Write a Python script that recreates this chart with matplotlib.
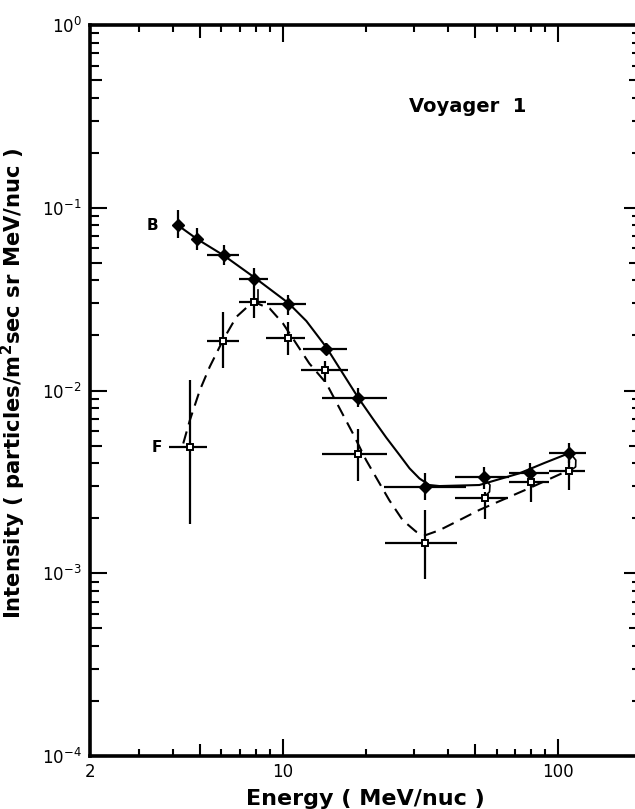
import math
import matplotlib
matplotlib.use("Agg")
import matplotlib.pyplot as plt
from matplotlib.ticker import FixedLocator, NullFormatter

# B spectrum (filled diamonds)
b_energy = [4.17, 4.88, 6.12, 7.86, 10.5, 14.4, 18.8, 33.0, 54.0, 79.2, 109.7]
b_intensity = [0.0804, 0.0674, 0.0551, 0.0407, 0.0297, 0.0168, 0.00912,
               0.00297, 0.00337, 0.00352, 0.00453]
b_energy_lo = [4.17, 4.88, 5.31, 6.94, 8.77, 11.9, 13.9, 23.4, 42.4, 66.5, 92.7]
b_energy_hi = [4.17, 4.88, 6.94, 8.86, 12.2, 17.1, 23.9, 46.4, 66.5, 92.7, 126.0]
b_int_lo = [0.0683, 0.0587, 0.0487, 0.0354, 0.0258, 0.0156, 0.0081,
            0.00251, 0.0029, 0.00305, 0.0040]
b_int_hi = [0.0971, 0.0774, 0.0625, 0.0469, 0.0333, 0.0182, 0.0103,
            0.00353, 0.00382, 0.0040, 0.00514]

# F spectrum (open squares)
f_energy = [4.61, 6.08, 7.86, 10.5, 14.3, 18.8, 33.0, 54.1, 79.7, 109.7]
f_intensity = [0.00488, 0.0187, 0.0306, 0.0193, 0.0130, 0.00447, 0.00146,
               0.00259, 0.00314, 0.00364]
f_energy_lo = [3.88, 5.30, 6.94, 8.73, 11.7, 13.9, 23.6, 42.4, 66.5, 92.7]
f_energy_hi = [5.32, 6.94, 8.73, 12.1, 17.3, 23.9, 42.9, 65.8, 92.7, 125.0]
f_int_lo = [0.00187, 0.0132, 0.0249, 0.0156, 0.0111, 0.00318, 0.00093,
            0.00198, 0.00245, 0.00286]
f_int_hi = [0.0114, 0.0270, 0.0354, 0.0238, 0.0145, 0.00616, 0.00221,
            0.00278, 0.00366, 0.00437]

# hand drawn curves
solid_energy = [4.16, 4.88, 6.12, 7.86, 10.5, 12.2, 14.4, 18.8, 21.3, 23.8,
                26.6, 28.9, 31.4, 34.1, 37.1, 51.8, 72.3, 89.1, 109.7]
solid_intensity = [0.0804, 0.0676, 0.0548, 0.0418, 0.0301, 0.0240, 0.01728,
                   0.00915, 0.00698, 0.00552, 0.00443, 0.00375, 0.00330,
                   0.00304, 0.00300, 0.00304, 0.00352, 0.00401, 0.00454]
dash_energy = [4.36, 4.61, 5.01, 5.44, 6.08, 6.80, 7.81, 8.98, 10.03, 11.2,
               12.5, 14.4, 18.0, 20.1, 22.5, 24.4, 27.3, 30.5, 33.2, 37.1,
               42.6, 51.8, 78.6, 109.7]
dash_intensity = [0.00513, 0.00689, 0.01005, 0.01348, 0.01888, 0.0253, 0.0306,
                  0.0281, 0.0233, 0.0181, 0.01407, 0.01098, 0.00582, 0.00416,
                  0.00310, 0.00251, 0.00195, 0.00169, 0.00162, 0.00172,
                  0.00191, 0.00222, 0.00292, 0.00367]

# little connector strokes between curves
link_energy = [[8.14, 8.14], [54.7, 56.6, 56.4, 54.3], [112.2, 116.0, 115.8, 111.5]]
link_intensity = [[0.0354, 0.0306], [0.00323, 0.00304, 0.00279, 0.00264],
                  [0.00443, 0.00416, 0.00382, 0.00367]]

x_ticks = [2, 10, 100]
x_ticklabels = ["2", "10", "100"]
x_minor = [3, 4, 5, 6, 7, 8, 9, 20, 30, 40, 50, 60, 70, 80, 90]
y_ticks = [1e-4, 1e-3, 1e-2, 1e-1, 1]

plt.rcParams['font.family'] = ['DejaVu Sans']
plt.rcParams['mathtext.default'] = 'regular'

fig = plt.figure(figsize=(6.35, 8.09), dpi=100)
ax = fig.add_axes([90 / 635, 53 / 809, 551 / 635, 731 / 809])
ax.set_xscale('log')
ax.set_yscale('log')
ax.set_xlim(2, 200)
ax.set_ylim(1e-4, 1)

ax.plot(solid_energy, solid_intensity, color='black', lw=1.5, zorder=2)
ax.plot(dash_energy, dash_intensity, color='black', lw=1.5,
        dashes=(6, 3.5), zorder=2)
for xs, ys in zip(link_energy, link_intensity):
    ax.plot(xs, ys, color='black', lw=1.2, zorder=2)

b_xerr = [[e - lo for e, lo in zip(b_energy, b_energy_lo)],
          [hi - e for e, hi in zip(b_energy, b_energy_hi)]]
b_yerr = [[v - lo for v, lo in zip(b_intensity, b_int_lo)],
          [hi - v for v, hi in zip(b_intensity, b_int_hi)]]
f_xerr = [[e - lo for e, lo in zip(f_energy, f_energy_lo)],
          [hi - e for e, hi in zip(f_energy, f_energy_hi)]]
f_yerr = [[v - lo for v, lo in zip(f_intensity, f_int_lo)],
          [hi - v for v, hi in zip(f_intensity, f_int_hi)]]

ax.errorbar(b_energy, b_intensity, xerr=b_xerr, yerr=b_yerr, fmt='D',
            color='black', ms=6, elinewidth=1.6, capsize=0, zorder=3)
ax.errorbar(f_energy, f_intensity, xerr=f_xerr, yerr=f_yerr, fmt='s',
            color='black', mfc='white', mec='black', mew=1.4, ms=5,
            elinewidth=1.6, capsize=0, zorder=4)

ax.text(4.17 / 1.18, 0.0804, "B", fontsize=11, fontweight='bold',
        ha='right', va='center')
ax.text(4.61 / 1.26, 0.00488, "F", fontsize=11, fontweight='bold',
        ha='right', va='center')
ax.text(0.685, 0.888, "Voyager  1", transform=ax.transAxes, fontsize=14,
        fontweight='bold', ha='center', va='center')

# ticks (lengths in points)
ax.xaxis.set_major_locator(FixedLocator(x_ticks))
ax.set_xticklabels(x_ticklabels)
ax.xaxis.set_minor_locator(FixedLocator(x_minor))
ax.xaxis.set_minor_formatter(NullFormatter())
ax.set_yticks(y_ticks)
ax.yaxis.set_minor_formatter(NullFormatter())
ax.tick_params(axis='both', which='both', direction='in', top=True, right=True,
               width=1.5, labelsize=12, color='black')
ax.tick_params(axis='x', which='major', length=12.5, pad=5)
ax.tick_params(axis='x', which='minor', length=5)
ax.tick_params(axis='y', which='major', length=12, pad=6)
ax.tick_params(axis='y', which='minor', length=6.5)

# the "5" minor ticks are drawn a bit longer
for t, v in zip(ax.xaxis.get_minor_ticks(), x_minor):
    if v in (5, 50):
        t.tick1line.set_markersize(9)
        t.tick2line.set_markersize(9)
y_minor = ax.yaxis.get_minorticklocs()
for t, v in zip(ax.yaxis.get_minor_ticks(len(y_minor)), y_minor):
    mant = v / 10 ** math.floor(math.log10(v) + 1e-9)
    if abs(mant - 5) < 0.01:
        t.tick1line.set_markersize(8.5)
        t.tick2line.set_markersize(8.5)

for sp in ax.spines.values():
    sp.set_linewidth(2.6)

ax.set_xlabel("Energy ( MeV/nuc )", fontsize=16, fontweight='bold', labelpad=6)
ax.set_ylabel("Intensity ( particles/m$^2$sec sr MeV/nuc )", fontsize=15.2,
              fontweight='bold')
ax.yaxis.set_label_coords(-0.112, 0.51)

fig.savefig("out.png", dpi=100)
